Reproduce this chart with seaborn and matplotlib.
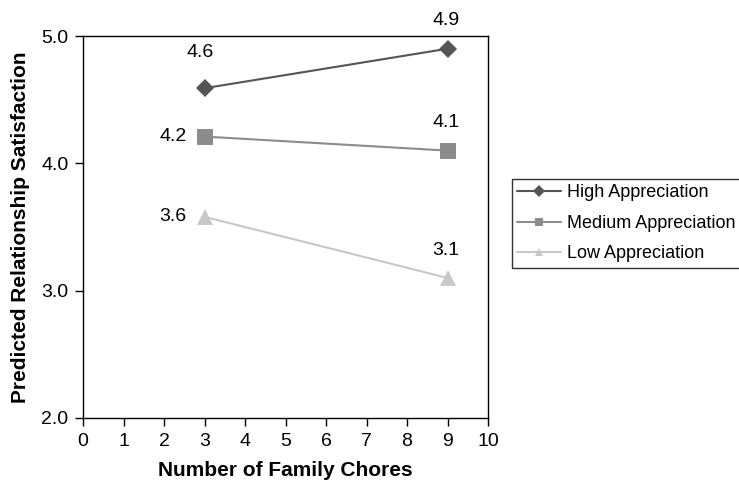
import pandas as pd
import matplotlib.pyplot as plt
import seaborn as sns

# Data
chores = [3, 9]
high = [4.59, 4.9]
medium = [4.21, 4.1]
low = [3.58, 3.1]
groups = ['High Appreciation', 'Medium Appreciation', 'Low Appreciation']
labels = {'High Appreciation': ['4.6', '4.9'],
          'Medium Appreciation': ['4.2', '4.1'],
          'Low Appreciation': ['3.6', '3.1']}

df = pd.DataFrame({
    'chores': chores * 3,
    'satisfaction': high + medium + low,
    'group': [g for g in groups for _ in chores],
})

sns.set_style("ticks")
plt.rcParams['font.family'] = ['Liberation Sans', 'DejaVu Sans']
plt.rcParams['text.color'] = 'black'
plt.rcParams['axes.labelcolor'] = 'black'
plt.rcParams['xtick.color'] = 'black'
plt.rcParams['ytick.color'] = 'black'

colors = {'High Appreciation': '#555555', 'Medium Appreciation': '#8c8c8c', 'Low Appreciation': '#c8c8c8'}
markers = {'High Appreciation': 'D', 'Medium Appreciation': 's', 'Low Appreciation': '^'}
sizes = {'High Appreciation': 9, 'Medium Appreciation': 11, 'Low Appreciation': 12}

fig = plt.figure(figsize=(7.39, 4.8), dpi=100)
ax = fig.add_axes([83 / 739, 1 - 418 / 480, 405 / 739, 382 / 480])

for g in groups:
    sub = df[df['group'] == g]
    sns.lineplot(data=sub, x='chores', y='satisfaction', color=colors[g], marker=markers[g],
                 markersize=sizes[g], markeredgewidth=0, linewidth=1.5, label=g, ax=ax)

# value labels
for g in groups:
    sub = df[df['group'] == g].reset_index(drop=True)
    for i, row in sub.iterrows():
        txt = labels[g][i]
        if g == 'High Appreciation' and i == 0:
            off, ha = (-3, 26), 'center'
        elif i == 0:
            off, ha = (-13, 0), 'right'
        else:
            off, ha = (-1, 20), 'center'
        ax.annotate(txt, (row['chores'], row['satisfaction']), xytext=off,
                    textcoords='offset points', ha=ha, va='center', fontsize=14)

ax.set_xlim(0, 10)
ax.set_ylim(2.0, 5.0)
ax.set_xticks(range(0, 11))
ax.set_yticks([2.0, 3.0, 4.0, 5.0])
ax.set_yticklabels(['2.0', '3.0', '4.0', '5.0'])
ax.tick_params(labelsize=14, length=5.5, width=1, pad=5, direction='out')
for s in ax.spines.values():
    s.set_visible(True)
    s.set_color('black')
    s.set_linewidth(1)

ax.set_xlabel('Number of Family Chores', fontsize=15, fontweight='bold', labelpad=8)
ax.set_ylabel('Predicted Relationship Satisfaction', fontsize=15, fontweight='bold', labelpad=8)

leg = ax.legend(loc='upper left', bbox_to_anchor=(1.059, 0.626), frameon=True, fancybox=False,
                edgecolor='black', fontsize=13, handlelength=2.4, borderpad=0.3,
                labelspacing=0.75, handletextpad=0.35, borderaxespad=0)
leg.get_frame().set_linewidth(1)
for h in leg.legend_handles:
    h.set_markersize(6)

fig.savefig('out.png', dpi=100)
